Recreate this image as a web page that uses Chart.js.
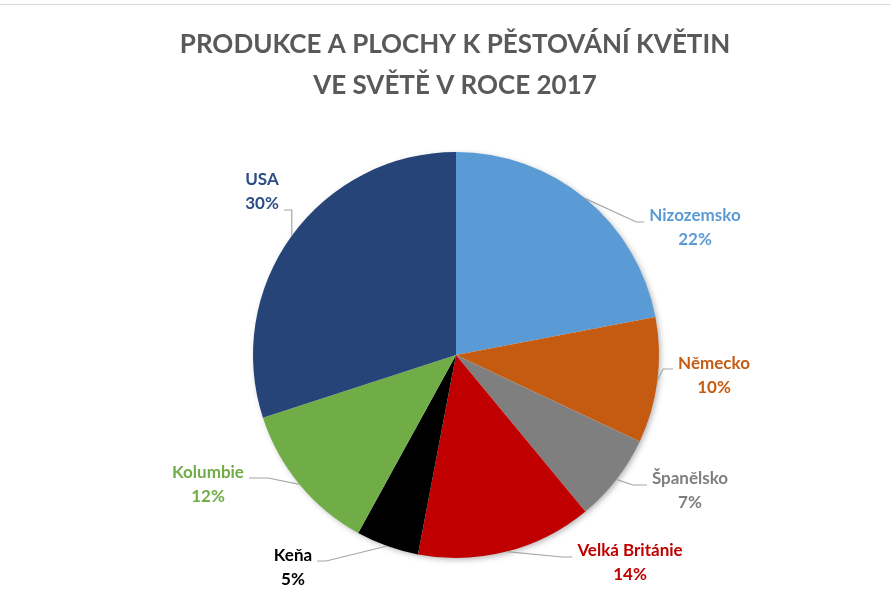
<!DOCTYPE html>
<html>
<head>
<meta charset="utf-8">
<script src="https://cdn.jsdelivr.net/npm/chart.js@4/dist/chart.umd.min.js"></script>
<style>
  html, body { margin: 0; padding: 0; background: #fff; }
  #wrap { position: relative; width: 890px; height: 603px; }
  #topline { position: absolute; left: 0; top: 4px; width: 890px; height: 1px; background: #d9d9d9; }
</style>
</head>
<body>
<div id="wrap">
  <canvas id="pieChart" width="890" height="603"></canvas>
  <div id="topline"></div>
</div>
<script>
// data
const titleLines = ['PRODUKCE A PLOCHY K PĚSTOVÁNÍ KVĚTIN', 'VE SVĚTĚ V ROCE 2017'];
const countries = ['Nizozemsko', 'Německo', 'Španělsko', 'Velká Británie', 'Keňa', 'Kolumbie', 'USA'];
const shares = [22, 10, 7, 14, 5, 12, 30];

// styles
const sliceColors = ['#5B9BD5', '#C55A11', '#7F7F7F', '#C00000', '#000000', '#70AD47', '#264478'];
const labelColors = ['#5B9BD5', '#C55A11', '#7F7F7F', '#C00000', '#000000', '#70AD47', '#2C4D85'];
// label block position relative to pie centre, side where the leader line attaches
const labelLayout = [
    { dx: 239, dy: -127, side: 'left', hlen: 8, lineDy: -6 },
    { dx: 258, dy: 21, side: 'left', hlen: 10, lineDy: -7 },
    { dx: 234, dy: 136, side: 'left', hlen: 14, lineDy: -6 },
    { dx: 174, dy: 208, side: 'left', hlen: 10, lineDy: -6 },
    { dx: -163, dy: 213, side: 'right', hlen: 9, lineDy: -7 },
    { dx: -248, dy: 130, side: 'right', hlen: 19, lineDy: -7 },
    { dx: -194, dy: -163, side: 'right', vertical: true, lineDy: 18 }
];

const FONT = 'Lato, "Open Sans", sans-serif';

const titlePlugin = {
    id: 'twoLineTitle',
    afterDraw(chart) {
        const ctx = chart.ctx;
        ctx.save();
        ctx.fillStyle = '#595959';
        ctx.font = 'bold 26px ' + FONT;
        ctx.textAlign = 'center';
        ctx.textBaseline = 'middle';
        titleLines.forEach((t, i) => ctx.fillText(t, 455, 45 + i * 41));
        ctx.restore();
    }
};

// one soft shadow under the whole pie, drawn before the slices
const shadowPlugin = {
    id: 'pieShadow',
    beforeDatasetDraw(chart) {
        const arc = chart.getDatasetMeta(0).data[0];
        if (!arc) return;
        const ctx = chart.ctx;
        ctx.save();
        ctx.shadowColor = 'rgba(0,0,0,0.35)';
        ctx.shadowBlur = 6;
        ctx.shadowOffsetX = 2;
        ctx.shadowOffsetY = 2;
        ctx.fillStyle = '#ffffff';
        ctx.beginPath();
        ctx.arc(arc.x, arc.y, arc.outerRadius - 1, 0, Math.PI * 2);
        ctx.fill();
        ctx.restore();
    }
};

const calloutPlugin = {
    id: 'callouts',
    afterDatasetsDraw(chart) {
        const ctx = chart.ctx;
        const meta = chart.getDatasetMeta(0);
        const total = shares.reduce((a, b) => a + b, 0);
        ctx.save();
        ctx.font = 'bold 17px ' + FONT;
        ctx.textBaseline = 'middle';
        ctx.textAlign = 'center';
        meta.data.forEach((arc, i) => {
            const lay = labelLayout[i];
            const mid = (arc.startAngle + arc.endAngle) / 2;
            const ax = arc.x + Math.cos(mid) * arc.outerRadius;
            const ay = arc.y + Math.sin(mid) * arc.outerRadius;
            const cx = arc.x + lay.dx;
            const cy = arc.y + lay.dy;
            const name = countries[i];
            const pct = Math.round(shares[i] / total * 100) + '%';

            // leader line
            const lineY = cy + lay.lineDy;
            const textW = lay.vertical ? ctx.measureText(pct).width : ctx.measureText(name).width;
            const edge = lay.side === 'left' ? cx - textW / 2 - 5 : cx + textW / 2 + 5;
            let elbowX;
            if (lay.vertical) elbowX = ax;
            else elbowX = lay.side === 'left' ? edge - lay.hlen : edge + lay.hlen;
            ctx.strokeStyle = '#A6A6A6';
            ctx.lineWidth = 1.2;
            ctx.beginPath();
            ctx.moveTo(ax, ay);
            ctx.lineTo(elbowX, lineY);
            ctx.lineTo(edge, lineY);
            ctx.stroke();

            // text
            ctx.fillStyle = labelColors[i];
            ctx.fillText(name, cx, cy - 12);
            ctx.fillText(pct, cx, cy + 12);
        });
        ctx.restore();
    }
};

new Chart(document.getElementById('pieChart'), {
    type: 'pie',
    data: {
        labels: countries,
        datasets: [{
            data: shares,
            backgroundColor: sliceColors,
            borderWidth: 0
        }]
    },
    options: {
        responsive: false,
        animation: false,
        layout: { padding: { top: 152, bottom: 45, left: 253, right: 231 } },
        plugins: {
            legend: { display: false },
            title: { display: false },
            tooltip: { enabled: false }
        }
    },
    plugins: [shadowPlugin, calloutPlugin, titlePlugin]
});
</script>
</body>
</html>
